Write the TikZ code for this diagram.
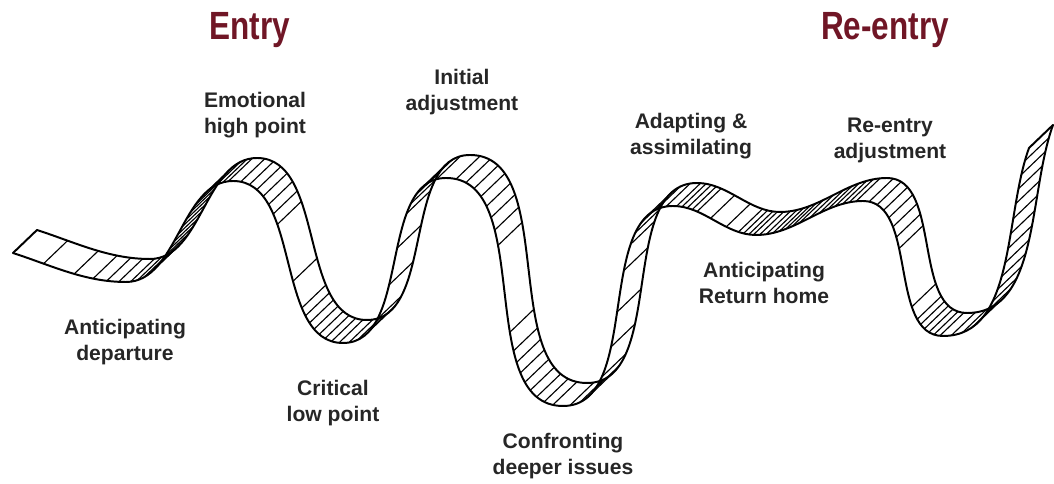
\documentclass[tikz,border=0pt]{standalone}
\usepackage{fontspec}
\setmainfont{Liberation Sans}
\newfontfamily\headfont[FakeStretch=0.8]{Liberation Sans}

\definecolor{maroon}{RGB}{112,22,38}

% offset from the upper edge of the ribbon to the lower one (px)
\newcommand{\ribdx}{-24}
\newcommand{\ribdy}{-23}

% one hatch line across the ribbon, at time #5 of the segment #1 -> #2
\newcommand{\hatchat}[5]{%
    \path (#1) to[out=#3, in=#4] coordinate[pos=#5] (h) (#2);
    \draw[hatch] (h) -- ++(\ribdx,\ribdy);}

\tikzset{
    edge/.style={
        line width=1.4pt,
        line join=round,
        line cap=round
    },
    hatch/.style={
        line width=0.8pt
    },
    heading/.style={
        font=\headfont\bfseries\fontsize{28}{30}\selectfont,
        text=maroon
    },
    stage/.style={
        font=\bfseries\fontsize{15}{18.5}\selectfont,
        align=center,
        text=black!85
    }
}

\begin{document}
\begin{tikzpicture}[x=0.025cm, y=0.025cm, looseness=0.9]

    \useasboundingbox (0,0) rectangle (1054,484);

    % Titles
    \node[heading] (entry) at (250,454) {Entry};
    \node[heading] (reentry) at (885,454) {Re-entry};

    % Turning points of the upper edge
    \coordinate (rstart) at (37,254);
    \coordinate (dip0) at (150,225);
    \coordinate (peak1) at (257,326);
    \coordinate (trough1) at (367,164);
    \coordinate (peak2) at (470,329);
    \coordinate (trough2) at (587,101);
    \coordinate (peak3) at (697,301);
    \coordinate (dip1) at (780,272);
    \coordinate (peak4) at (887,306);
    \coordinate (trough3) at (967,171);
    \coordinate (rend) at (1053,359);

    % same points on the lower edge
    \foreach \n in {rstart,dip0,peak1,trough1,peak2,trough2,peak3,dip1,peak4,trough3,rend}
        \coordinate (\n-lo) at ([shift={(\ribdx,\ribdy)}]\n);

    % Hatching
    \foreach \t in {0.27,0.55,0.72,0.84,0.94}
        {\hatchat{rstart}{dip0}{-18}{180}{\t}}
    \foreach \t in {0.03,0.08,0.13,0.18,0.23,0.28,0.33,0.38,0.43,0.48,0.53,0.58,0.63,0.68,0.73,0.78,0.83,0.88,0.93,0.97}
        {\hatchat{dip0}{peak1}{0}{180}{\t}}
    \foreach \t in {0.04,0.09,0.14,0.19,0.24,0.29,0.34,0.58,0.7,0.74,0.78,0.82,0.86,0.9,0.94,0.98}
        {\hatchat{peak1}{trough1}{0}{180}{\t}}
    \foreach \t in {0.03,0.08,0.13,0.18,0.24,0.4,0.55,0.7,0.75,0.8,0.85,0.9,0.95}
        {\hatchat{trough1}{peak2}{0}{180}{\t}}
    \foreach \t in {0.04,0.085,0.13,0.175,0.22,0.265,0.31,0.36,0.62,0.68,0.72,0.76,0.8,0.84,0.88,0.92,0.96}
        {\hatchat{peak2}{trough2}{0}{180}{\t}}
    \foreach \t in {0.03,0.08,0.13,0.18,0.24,0.36,0.48,0.62,0.72,0.77,0.82,0.87,0.92,0.97}
        {\hatchat{trough2}{peak3}{0}{180}{\t}}
    \foreach \t in {0.04,0.1,0.16,0.22,0.28,0.45,0.65,0.8,0.86,0.92,0.97}
        {\hatchat{peak3}{dip1}{0}{180}{\t}}
    \foreach \t in {0.03,0.09,0.15,0.21,0.27,0.33,0.4,0.5,0.6,0.68,0.75,0.82,0.88,0.94}
        {\hatchat{dip1}{peak4}{0}{180}{\t}}
    \foreach \t in {0.04,0.1,0.16,0.22,0.28,0.34,0.4,0.7,0.78,0.82,0.86,0.9,0.94,0.98}
        {\hatchat{peak4}{trough3}{0}{180}{\t}}
    \foreach \t in {0.04,0.1,0.16,0.22,0.28,0.34,0.4,0.46,0.52,0.58,0.64,0.7,0.76,0.82,0.88,0.94}
        {\hatchat{trough3}{rend}{0}{-110}{\t}}

    % Ribbon edges
    \draw[edge] (rstart) to[out=-18,in=180] (dip0) to[out=0,in=180] (peak1)
        to[out=0,in=180] (trough1) to[out=0,in=180] (peak2)
        to[out=0,in=180] (trough2) to[out=0,in=180] (peak3)
        to[out=0,in=180] (dip1) to[out=0,in=180] (peak4)
        to[out=0,in=180] (trough3) to[out=0,in=-110] (rend);
    \draw[edge] (rstart-lo) to[out=-18,in=180] (dip0-lo) to[out=0,in=180] (peak1-lo)
        to[out=0,in=180] (trough1-lo) to[out=0,in=180] (peak2-lo)
        to[out=0,in=180] (trough2-lo) to[out=0,in=180] (peak3-lo)
        to[out=0,in=180] (dip1-lo) to[out=0,in=180] (peak4-lo)
        to[out=0,in=180] (trough3-lo) to[out=0,in=-110] (rend-lo);
    \draw[edge] (rstart) -- (rstart-lo);
    \draw[edge] (rend) -- (rend-lo);

    % Stages
    \node[stage] (departure) at (125,142) {Anticipating\\departure};
    \node[stage] (highpoint) at (255,369) {Emotional\\high point};
    \node[stage] (lowpoint) at (333,81) {Critical\\low point};
    \node[stage] (initial) at (462,392) {Initial\\adjustment};
    \node[stage] (deeper) at (563,28) {Confronting\\deeper issues};
    \node[stage] (adapting) at (691,348) {Adapting \&\\assimilating};
    \node[stage] (returnhome) at (764,201) {Anticipating\\Return home};
    \node[stage] (readjust) at (890,344) {Re-entry\\adjustment};

\end{tikzpicture}
\end{document}
